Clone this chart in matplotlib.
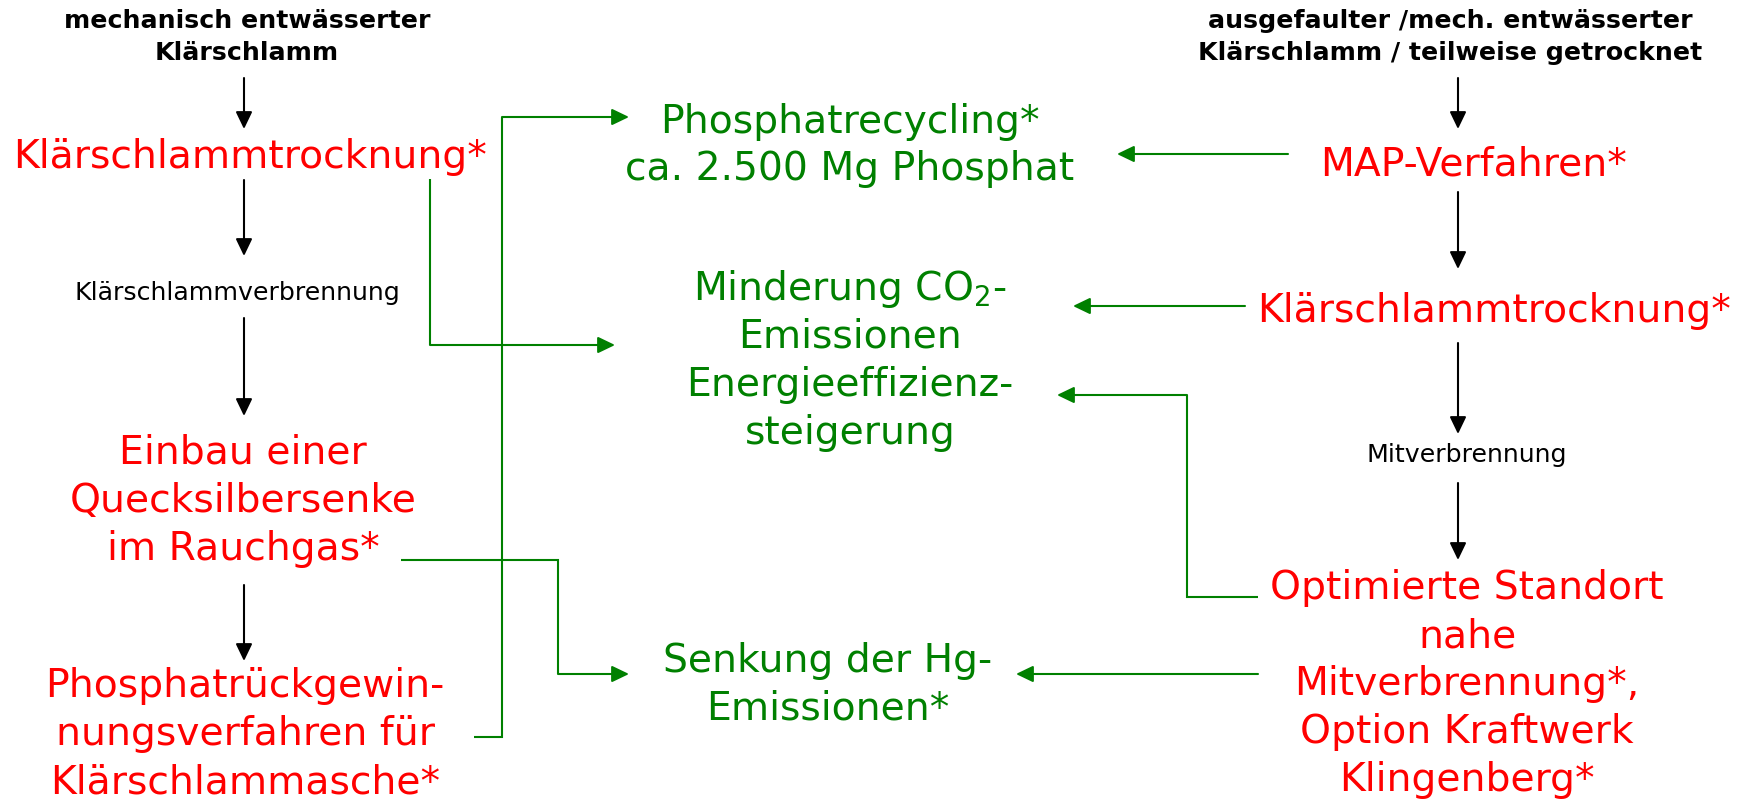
import matplotlib
matplotlib.use('Agg')
import matplotlib.pyplot as plt

RED = '#FF0000'
GREEN = '#008000'
BLACK = '#000000'

# ---- texts of the diagram ----
left_source = ["mechanisch entwässerter", "Klärschlamm"]
left_steps = [
    ["Klärschlammtrocknung*"],
    ["Klärschlammverbrennung"],
    ["Einbau einer", "Quecksilbersenke", "im Rauchgas*"],
    ["Phosphatrückgewin-", "nungsverfahren für", "Klärschlammasche*"],
]
right_source = ["ausgefaulter /mech. entwässerter", "Klärschlamm / teilweise getrocknet"]
right_steps = [
    ["MAP-Verfahren*"],
    ["Klärschlammtrocknung*"],
    ["Mitverbrennung"],
    ["Optimierte Standort", "nahe", "Mitverbrennung*,", "Option Kraftwerk", "Klingenberg*"],
]
effects = [
    ["Phosphatrecycling*", "ca. 2.500 Mg Phosphat"],
    ["Minderung CO$_2$-", "Emissionen", "Energieeffizienz-", "steigerung"],
    ["Senkung der Hg-", "Emissionen*"],
]

W, H = 1750, 799
fig = plt.figure(figsize=(W / 100, H / 100), dpi=100)
ax = fig.add_axes([0, 0, 1, 1])
ax.set_xlim(0, W)
ax.set_ylim(H, 0)
ax.axis('off')

BIG = 28.3
SMALL = 18.2
DY = 48


def block(lines, x, y0, size, color, dy=DY, weight='normal'):
    for i, s in enumerate(lines):
        ax.text(x, y0 + i * dy, s, ha='center', va='baseline', fontsize=size,
                color=color, fontweight=weight, family='DejaVu Sans')


def arrow(points, color):
    xs = [p[0] for p in points[:-1]]
    ys = [p[1] for p in points[:-1]]
    if len(points) > 2:
        ax.plot(xs, ys, color=color, lw=1.5, solid_capstyle='butt', solid_joinstyle='miter')
    ax.annotate('', xy=points[-1], xytext=points[-2],
                arrowprops=dict(arrowstyle='-|>,head_length=1.04,head_width=0.5',
                                mutation_scale=10, color=color, lw=1.5,
                                shrinkA=0, shrinkB=0))


# headers
block(left_source, 247, 28, SMALL, BLACK, dy=32, weight='bold')
block(right_source, 1450, 28, SMALL, BLACK, dy=32, weight='bold')

# left column
block(left_steps[0], 250, 168, BIG, RED)
block(left_steps[1], 237, 300, SMALL, BLACK)
block(left_steps[2], 243, 464, BIG, RED)
block(left_steps[3], 245, 697, BIG, RED)

# right column
block(right_steps[0], 1474, 176, BIG, RED)
block(right_steps[1], 1494, 322, BIG, RED)
block(right_steps[2], 1467, 462, SMALL, BLACK)
block(right_steps[3], 1467, 599, BIG, RED)

# middle effects
block(effects[0], 850, 133, BIG, GREEN, dy=47)
block(effects[1], 850, 300, BIG, GREEN)
block(effects[2], 828, 672, BIG, GREEN)

# black flow arrows
for y0, y1 in [(78, 129), (180, 256), (318, 416), (585, 661)]:
    arrow([(244, y0), (244, y1)], BLACK)
for y0, y1 in [(78, 129), (192, 269), (343, 434), (483, 560)]:
    arrow([(1458, y0), (1458, y1)], BLACK)

# green connectors
arrow([(430, 179), (430, 345), (615, 345)], GREEN)
arrow([(474, 737), (502, 737), (502, 117), (629, 117)], GREEN)
arrow([(401, 560), (558, 560), (558, 674), (629, 674)], GREEN)
arrow([(1288, 154), (1117, 154)], GREEN)
arrow([(1245, 306), (1073, 306)], GREEN)
arrow([(1258, 597), (1187, 597), (1187, 395), (1057, 395)], GREEN)
arrow([(1258, 674), (1016, 674)], GREEN)

fig.savefig('out.png', dpi=100, facecolor='white')
